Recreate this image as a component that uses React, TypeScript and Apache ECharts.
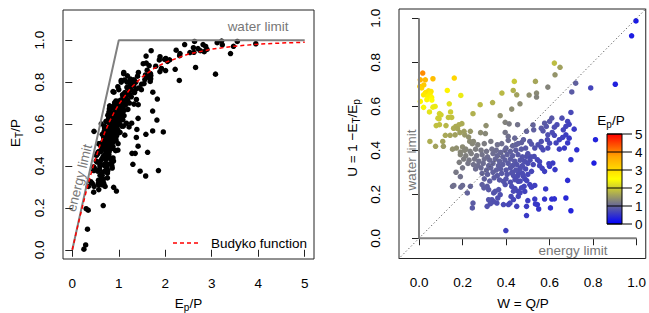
import React, { useEffect, useRef } from "react";
import * as echarts from "echarts";

const FONT = "'Liberation Sans', Arial, Helvetica, sans-serif";
const FS = 13.5;

// Catchments: [W = Q/P, U = 1 - E_T/E_p]
const aridCatchments = [
  [0.017, 0.751], [0.006, 0.72], [0.029, 0.72], [0.064, 0.725], [0.162, 0.728],
  [0.004, 0.69], [0.012, 0.683], [0.022, 0.697], [0.03, 0.662], [0.044, 0.67], [0.055, 0.667], [0.05, 0.655],
  [0.021, 0.652], [0.04, 0.645], [0.058, 0.64], [0.13, 0.672], [0.006, 0.622],
  [0.036, 0.63], [0.059, 0.628], [0.192, 0.649], [0.021, 0.595], [0.064, 0.596], [0.074, 0.599],
  [0.139, 0.611], [0.048, 0.574], [0.094, 0.567], [0.145, 0.574], [0.092, 0.543], [0.135, 0.549],
  [0.15, 0.549], [0.101, 0.561], [0.087, 0.546],
];
const transitionCatchments = [
  [0.079, 0.512], [0.094, 0.516], [0.124, 0.512], [0.169, 0.508], [0.184, 0.516], [0.197, 0.521],
  [0.05, 0.44], [0.076, 0.418], [0.121, 0.468], [0.109, 0.44], [0.112, 0.418],
  [0.159, 0.5], [0.177, 0.498], [0.143, 0.468], [0.166, 0.47], [0.188, 0.48], [0.21, 0.47], [0.228, 0.46],
  [0.207, 0.486], [0.236, 0.486], [0.283, 0.48], [0.305, 0.476], [0.308, 0.512],
  [0.233, 0.44], [0.245, 0.43], [0.154, 0.405], [0.172, 0.41], [0.2, 0.415], [0.215, 0.405], [0.19, 0.392],
  [0.248, 0.566], [0.281, 0.607], [0.338, 0.617], [0.373, 0.557],
  [0.381, 0.66], [0.433, 0.672], [0.449, 0.652], [0.438, 0.713], [0.535, 0.713], [0.592, 0.687],
  [0.506, 0.651], [0.54, 0.66], [0.54, 0.642],
  [0.464, 0.611], [0.426, 0.587], [0.396, 0.527], [0.414, 0.52], [0.453, 0.516],
  [0.622, 0.796], [0.648, 0.777], [0.625, 0.743],
];
const outlierCatchments = [
  [0.72, 0.705], [0.702, 0.665], [0.789, 0.683], [0.902, 0.7], [0.977, 0.92], [0.997, 0.988],
  [0.804, 0.342], [0.811, 0.448], [0.435, -0.21],
];
const humidCatchments = [
  [0.698, 0.572], [0.657, 0.546], [0.61, 0.546], [0.6, 0.531], [0.683, 0.531], [0.675, 0.508], [0.69, 0.518],
  [0.634, 0.516], [0.622, 0.505], [0.577, 0.523], [0.585, 0.508], [0.562, 0.5], [0.57, 0.488], [0.524, 0.515],
  [0.527, 0.493], [0.494, 0.486], [0.612, 0.481], [0.622, 0.468], [0.663, 0.493], [0.675, 0.47], [0.713, 0.496],
  [0.69, 0.455], [0.645, 0.448], [0.66, 0.458], [0.592, 0.47], [0.59, 0.448], [0.6, 0.432], [0.562, 0.44],
  [0.547, 0.425], [0.562, 0.413], [0.63, 0.433], [0.645, 0.405], [0.683, 0.433], [0.668, 0.41], [0.725, 0.402],
  [0.698, 0.357], [0.683, 0.263], [0.615, 0.342], [0.6, 0.327], [0.625, 0.312], [0.577, 0.304], [0.554, 0.33],
  [0.566, 0.318], [0.529, 0.372], [0.544, 0.357], [0.554, 0.348], [0.494, 0.372], [0.514, 0.37], [0.57, 0.402],
  [0.592, 0.41], [0.532, 0.41], [0.509, 0.44], [0.517, 0.428], [0.471, 0.435], [0.48, 0.448], [0.44, 0.455],
  [0.445, 0.425], [0.41, 0.463], [0.396, 0.481], [0.597, 0.339], [0.517, 0.304],
];
const lowUCatchments = [
  [0.509, 0.244], [0.517, 0.232], [0.532, 0.24], [0.486, 0.27], [0.495, 0.262], [0.456, 0.3], [0.464, 0.315],
  [0.426, 0.236], [0.441, 0.226], [0.456, 0.213], [0.373, 0.198], [0.362, 0.183], [0.358, 0.16], [0.335, 0.175],
  [0.343, 0.166], [0.388, 0.153], [0.423, 0.19], [0.434, 0.176], [0.456, 0.19], [0.464, 0.206], [0.483, 0.236],
  [0.486, 0.213], [0.494, 0.145], [0.494, 0.103], [0.532, 0.178], [0.544, 0.153], [0.577, 0.178], [0.604, 0.138],
  [0.61, 0.178], [0.675, 0.183], [0.698, 0.125], [0.399, 0.035], [0.32, 0.175], [0.328, 0.157], [0.248, 0.16],
  [0.245, 0.138], [0.236, 0.236], [0.192, 0.232], [0.2, 0.24], [0.154, 0.236], [0.222, 0.206], [0.313, 0.236],
  [0.32, 0.221], [0.366, 0.221], [0.582, 0.224], [0.622, 0.179], [0.5, 0.171], [0.55, 0.133], [0.535, 0.156],
  [0.411, 0.153], [0.418, 0.16], [0.449, 0.145], [0.343, 0.206], [0.35, 0.213], [0.388, 0.259], [0.396, 0.244],
  [0.434, 0.214], [0.441, 0.266], [0.456, 0.259], [0.479, 0.282], [0.426, 0.297], [0.434, 0.285], [0.471, 0.229],
  [0.313, 0.145],
];
const coreCatchments = [
  [0.25, 0.44], [0.27, 0.425], [0.3, 0.43], [0.33, 0.44], [0.36, 0.425], [0.38, 0.43], [0.41, 0.445], [0.43, 0.42],
  [0.455, 0.43], [0.4, 0.41],
  [0.21, 0.4], [0.235, 0.395], [0.26, 0.405], [0.285, 0.4], [0.31, 0.395], [0.335, 0.405], [0.355, 0.4],
  [0.375, 0.39], [0.395, 0.4], [0.42, 0.395], [0.445, 0.4], [0.47, 0.405], [0.49, 0.41],
  [0.19, 0.38], [0.215, 0.375], [0.24, 0.385], [0.265, 0.375], [0.29, 0.38], [0.315, 0.37], [0.34, 0.385],
  [0.36, 0.375], [0.385, 0.37], [0.405, 0.38], [0.43, 0.375], [0.455, 0.38], [0.475, 0.37], [0.5, 0.385],
  [0.205, 0.36], [0.23, 0.355], [0.255, 0.36], [0.275, 0.35], [0.3, 0.36], [0.325, 0.355], [0.35, 0.36],
  [0.37, 0.35], [0.395, 0.355], [0.42, 0.36], [0.44, 0.35], [0.465, 0.355], [0.485, 0.35], [0.51, 0.355],
  [0.225, 0.34], [0.25, 0.335], [0.27, 0.33], [0.295, 0.34], [0.32, 0.33], [0.34, 0.34], [0.365, 0.33],
  [0.385, 0.335], [0.41, 0.34], [0.43, 0.33], [0.45, 0.335], [0.475, 0.33], [0.5, 0.34], [0.525, 0.335],
  [0.26, 0.315], [0.285, 0.32], [0.31, 0.31], [0.33, 0.32], [0.355, 0.31], [0.375, 0.315], [0.4, 0.31],
  [0.42, 0.32], [0.445, 0.31], [0.465, 0.32], [0.49, 0.315],
  [0.29, 0.295], [0.315, 0.29], [0.34, 0.3], [0.36, 0.285], [0.38, 0.295], [0.405, 0.29], [0.43, 0.3],
  [0.455, 0.285], [0.475, 0.295], [0.5, 0.29],
  [0.3, 0.27], [0.325, 0.26], [0.345, 0.275], [0.37, 0.265], [0.4, 0.27], [0.42, 0.255], [0.445, 0.27],
  [0.465, 0.26], [0.29, 0.244], [0.298, 0.229],
  [0.19, 0.28], [0.16, 0.24], [0.17, 0.3], [0.2, 0.32], [0.185, 0.345],
];

// Budyko curve samples (E_p/P, E_T/P)
const budykoX = [0, 0.1, 0.2, 0.3, 0.4, 0.5, 0.6, 0.7, 0.8, 0.9, 1, 1.25, 1.5, 1.75, 2, 2.5, 3, 3.5, 4, 4.5, 5];
const budykoY = [0, 0.0976, 0.1904, 0.2785, 0.3607, 0.4355, 0.502, 0.5605, 0.6113, 0.6556, 0.6938, 0.7696,
  0.8241, 0.864, 0.8939, 0.9338, 0.9573, 0.9716, 0.9807, 0.9864, 0.9901];

// Limits
const leftLimitX = [0, 1, 5];
const leftLimitY = [0, 1, 1];
const rightLimitW = [0, 0, 1];
const rightLimitU = [1, 0, 0];

// Tick values
const leftXTicks = [0, 1, 2, 3, 4, 5];
const unitTicks = [0, 0.2, 0.4, 0.6, 0.8, 1.0];
const colorbarTicks = [0, 1, 2, 3, 4, 5];
const paletteColors = ["#0000ff", "#7f7f7f", "#ffff00", "#ffa500", "#ff0000"];

const allCatchments = [
  ...aridCatchments, ...transitionCatchments, ...outlierCatchments,
  ...humidCatchments, ...lowUCatchments, ...coreCatchments,
];

let measureCtx: CanvasRenderingContext2D | null = null;
function textWidth(s: string, size: number) {
  if (!measureCtx) measureCtx = document.createElement("canvas").getContext("2d");
  measureCtx!.font = `${size}px ${FONT}`;
  return measureCtx!.measureText(s).width;
}

type Part = { t: string; sub?: boolean };
function mathText(parts: Part[], cx: number, cy: number, rotation: number, color = "#000") {
  const subSize = FS * 0.74;
  const widths = parts.map((p) => textWidth(p.t, p.sub ? subSize : FS));
  const total = widths.reduce((a, b) => a + b, 0);
  let x = -total / 2;
  const children = parts.map((p, i) => {
    const el = {
      type: "text",
      x,
      y: p.sub ? 4 : 0,
      style: {
        text: p.t,
        font: `${p.sub ? subSize : FS}px ${FONT}`,
        fill: color,
        textAlign: "left",
        verticalAlign: "middle",
      },
    };
    x += widths[i];
    return el;
  });
  return { type: "group", x: cx, y: cy, rotation, children };
}

function plainText(t: string, x: number, y: number, color = "#000", align = "center", rotation = 0) {
  return {
    type: "text",
    x,
    y,
    rotation,
    style: { text: t, font: `${FS}px ${FONT}`, fill: color, textAlign: align, verticalAlign: "middle" },
  };
}

const GRAY = "#808080";
const AXIS_COL = "#222";

export default function App() {
  const ref = useRef<HTMLDivElement>(null);
  useEffect(() => {
    if (!ref.current) return;
    const chart = echarts.init(ref.current, undefined, { renderer: "svg" });

    const leftPoints = allCatchments.map(([w, u]) => [(1 - w) / (1 - u), 1 - w]);
    const rightPoints = allCatchments.map(([w, u]) => [w, u, (1 - w) / (1 - u)]);

    const axisCommon = (ticks: number[], fmt: (v: number) => string, rotate = 0) => ({
      axisLine: { show: false },
      splitLine: { show: false },
      axisTick: { show: true, customValues: ticks, length: 7, lineStyle: { color: AXIS_COL, width: 1 } },
      axisLabel: {
        customValues: ticks,
        formatter: (v: number) => fmt(v),
        fontSize: FS,
        fontFamily: FONT,
        color: "#000",
        margin: 17,
        rotate,
      },
    });

    const cbTop = 134;
    const cbBottom = 224;
    const cbLeft = 607;
    const cbWidth = 15;
    const cbStep = (cbBottom - cbTop) / 5;

    const graphic: any[] = [
      plainText("water limit", 258, 26, "#777"),
      plainText("energy limit", 79.5, 178, "#777", "center", (76 * Math.PI) / 180),
      {
        type: "line",
        shape: { x1: 173, y1: 243, x2: 199, y2: 243 },
        style: { stroke: "#ff0000", lineWidth: 1.5, lineDash: [4, 3] },
      },
      plainText("Budyko function", 211, 243, "#000", "left"),
      mathText([{ t: "E" }, { t: "T", sub: true }, { t: "/P" }], 15, 133, Math.PI / 2),
      mathText([{ t: "E" }, { t: "p", sub: true }, { t: "/P" }], 188.5, 303, 0),
      plainText("water limit", 411, 160, "#777", "center", Math.PI / 2),
      plainText("energy limit", 573, 250.5, "#777"),
      plainText("W = Q/P", 523, 303),
      mathText([{ t: "U = 1 \u2212E" }, { t: "T", sub: true }, { t: "/E" }, { t: "p", sub: true }], 352, 138, Math.PI / 2),
      {
        type: "rect",
        shape: { x: cbLeft, y: cbTop, width: cbWidth, height: cbBottom - cbTop },
        style: {
          fill: new echarts.graphic.LinearGradient(0, 1, 0, 0, paletteColors.map((c, i) => ({ offset: i / (paletteColors.length - 1), color: c }))),
          stroke: "#000",
          lineWidth: 1,
        },
      },
      ...colorbarTicks.map((v) => ({
        type: "line",
        shape: { x1: cbLeft, y1: cbBottom - v * cbStep, x2: cbLeft + 25, y2: cbBottom - v * cbStep },
        style: { stroke: "#000", lineWidth: 1 },
      })),
      ...colorbarTicks.map((v) => plainText(String(v), 635, cbBottom - v * cbStep, "#000", "left")),
      mathText([{ t: "E" }, { t: "p", sub: true }, { t: "/P" }], 611, 120, 0),
    ];

    chart.setOption({
      animation: false,
      backgroundColor: "#fff",
      grid: [
        { left: 63, top: 10, width: 251, height: 249, show: true, borderColor: AXIS_COL, borderWidth: 1, backgroundColor: "transparent" },
        { left: 399, top: 9, width: 249.5, height: 249.5, show: true, borderColor: AXIS_COL, borderWidth: 1, backgroundColor: "transparent" },
      ],
      xAxis: [
        { type: "value", gridIndex: 0, min: -0.2, max: 5.2, ...axisCommon(leftXTicks, (v) => String(v)) },
        { type: "value", gridIndex: 1, min: -0.092, max: 1.042, ...axisCommon(unitTicks, (v) => v.toFixed(1)) },
      ],
      yAxis: [
        { type: "value", gridIndex: 0, min: -0.044, max: 1.144, ...axisCommon(unitTicks, (v) => v.toFixed(1), 90) },
        { type: "value", gridIndex: 1, min: -0.092, max: 1.042, ...axisCommon(unitTicks, (v) => v.toFixed(1), 90) },
      ],
      visualMap: {
        type: "continuous",
        show: false,
        min: 0,
        max: 5,
        dimension: 2,
        seriesIndex: 5,
        inRange: { color: paletteColors },
      },
      series: [
        {
          type: "line",
          xAxisIndex: 0,
          yAxisIndex: 0,
          data: leftLimitX.map((x, i) => [x, leftLimitY[i]]),
          symbol: "none",
          lineStyle: { color: GRAY, width: 2 },
          silent: true,
        },
        {
          type: "scatter",
          xAxisIndex: 0,
          yAxisIndex: 0,
          data: leftPoints,
          symbolSize: 5.5,
          itemStyle: { color: "#000", opacity: 1 },
        },
        {
          type: "line",
          xAxisIndex: 0,
          yAxisIndex: 0,
          data: budykoX.map((x, i) => [x, budykoY[i]]),
          symbol: "none",
          lineStyle: { color: "#ff0000", width: 1.5, type: [4, 3] },
        },
        {
          type: "line",
          xAxisIndex: 1,
          yAxisIndex: 1,
          data: rightLimitW.map((w, i) => [w, rightLimitU[i]]),
          symbol: "none",
          lineStyle: { color: GRAY, width: 2 },
        },
        {
          type: "line",
          xAxisIndex: 1,
          yAxisIndex: 1,
          data: [[-0.2, -0.2], [1.2, 1.2]],
          symbol: "none",
          clip: true,
          lineStyle: { color: "#555", width: 1, type: [1.2, 2.4] },
        },
        {
          type: "scatter",
          xAxisIndex: 1,
          yAxisIndex: 1,
          data: rightPoints,
          symbolSize: 5.5,
          clip: true,
          itemStyle: { opacity: 1 },
        },
      ],
      graphic,
    });
    return () => chart.dispose();
  }, []);
  return (
    <div
      ref={ref}
      style={{ position: "absolute", left: 0, top: 0, width: 649, height: 313, background: "#fff" }}
    />
  );
}
